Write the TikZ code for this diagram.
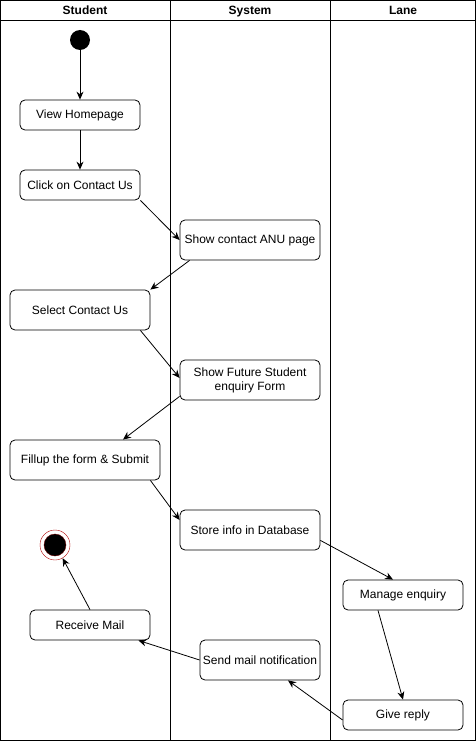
\documentclass[tikz,border=0pt]{standalone}
\usepackage{fontspec}
\setmainfont{Liberation Sans}
\usepackage{tikz}
\usetikzlibrary{arrows.meta,positioning}
\definecolor{endred}{HTML}{B20000}

\begin{document}
\begin{tikzpicture}[x=1pt, y=-1pt, font=\fontsize{12}{14}\selectfont,
  act/.style={draw, thick, rounded corners=5pt, align=center, inner sep=0pt},
  arr/.style={-{Stealth[length=8pt,width=7pt]}, thick},
  lane/.style={font=\fontsize{12}{14}\selectfont\bfseries, anchor=base}]
  \useasboundingbox (0,0) rectangle (476,741);
  % Swimlanes
  \draw[thick] (0.5,0.5) rectangle (475.5,740.5);
  \draw[thick] (0.5,20) -- (475.5,20);
  \draw[thick] (170,0.5) -- (170,740.5);
  \draw[thick] (330,0.5) -- (330,740.5);
  \node[lane] (hstudent) at (85,15) {Student};
  \node[lane] (hsystem) at (250,15) {System};
  \node[lane] (hlane) at (403,15) {Lane};
  % Student lane
  \node[circle, fill=black, minimum size=20pt, inner sep=0pt] (start) at (80,40) {};
  \node[act, minimum width=120pt, minimum height=30pt] (view) at (80,115) {View Homepage};
  \node[act, minimum width=120pt, minimum height=30pt] (click) at (80,185) {Click on Contact Us};
  \node[act, minimum width=140pt, minimum height=40pt] (select) at (80,310) {Select Contact Us};
  \node[act, minimum width=150pt, minimum height=40pt] (fill) at (85,460) {Fillup the form \& Submit};
  \node[act, minimum width=120pt, minimum height=30pt] (receive) at (90,625) {Receive Mail};
  \node[circle, draw=endred, minimum size=30pt, inner sep=0pt] (stop) at (55,545) {};
  \node[circle, fill=black, draw=endred!60!black, minimum size=22pt, inner sep=0pt] (stopin) at (55,545) {};
  % System lane
  \node[act, minimum width=140pt, minimum height=40pt] (showpage) at (250,240) {Show contact ANU page};
  \node[act, minimum width=140pt, minimum height=40pt] (future) at (250,380) {Show Future Student\\enquiry Form};
  \node[act, minimum width=140pt, minimum height=40pt] (store) at (250,530) {Store info in Database};
  \node[act, minimum width=120pt, minimum height=40pt] (send) at (260,660) {Send mail notification};
  % Lane
  \node[act, minimum width=120pt, minimum height=30pt] (manage) at (403,595) {Manage enquiry};
  \node[act, minimum width=120pt, minimum height=30pt] (reply) at (403,715) {Give reply};
  % Flow
  \draw[arr] (start.south) -- (view.north);
  \draw[arr] (view.south) -- (click.north);
  \draw[arr] (click.south east) -- (showpage.west);
  \draw[arr] ([xshift=10pt]showpage.south west) -- (select.north east);
  \draw[arr] ([xshift=-10pt]select.south east) -- ([yshift=2pt]future.west);
  \draw[arr] ([yshift=4pt]future.south west) -- ([xshift=38pt]fill.north);
  \draw[arr] ([xshift=-10pt]fill.south east) -- ([yshift=10pt]store.west);
  \draw[arr] ([yshift=10pt]store.south east) -- ([xshift=-10pt]manage.north);
  \draw[arr] ([xshift=-25pt]manage.south) -- (reply.north);
  \draw[arr] ([yshift=-5pt]reply.west) -- ([xshift=28pt]send.south);
  \draw[arr] (send.west) -- ([xshift=-12pt]receive.south east);
  \draw[arr] (receive.north) -- (stop.-60);
\end{tikzpicture}
\end{document}
